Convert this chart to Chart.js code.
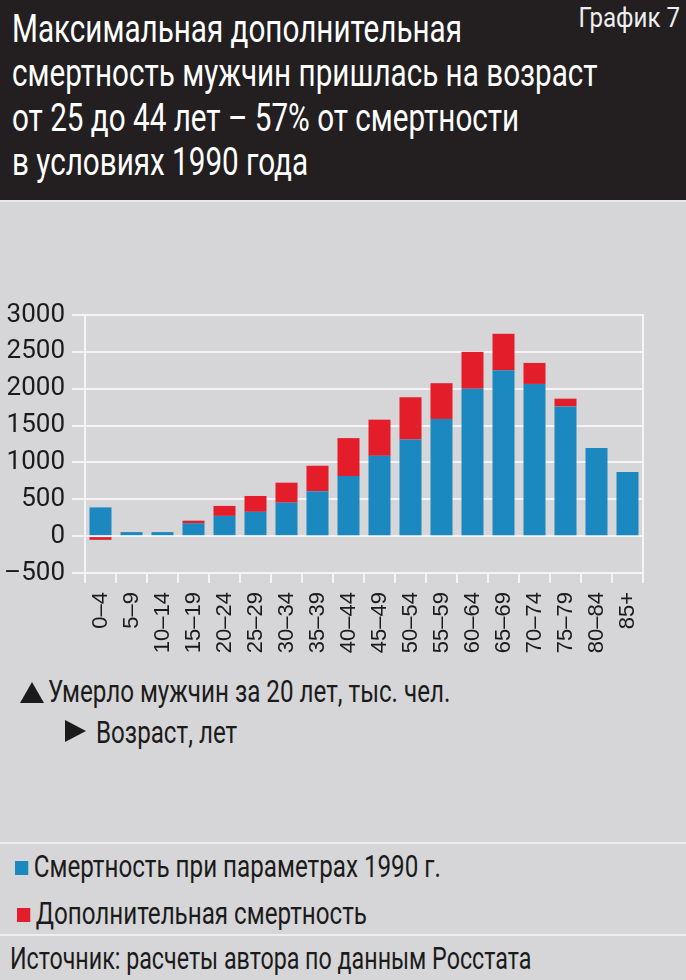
<!DOCTYPE html>
<html lang="ru">
<head>
<meta charset="utf-8">
<title>График 7</title>
<script src="https://cdn.jsdelivr.net/npm/chart.js@4.4.1/dist/chart.umd.min.js"></script>
<style>
    html, body {
        margin: 0;
        padding: 0;
    }
    body {
        width: 686px;
        height: 980px;
        overflow: hidden;
        position: relative;
        background: #d6d5d7;
        font-family: Roboto, "Liberation Sans", sans-serif;
        color: #1b1b1b;
    }
    /* узкий шрифт имитируем сжатием по горизонтали */
    .cond {
        position: absolute;
        white-space: nowrap;
        transform: scaleX(0.78);
        transform-origin: 0 0;
    }
    .header {
        position: absolute;
        left: 0;
        top: 0;
        width: 686px;
        height: 200px;
        background: #231f20;
        border-bottom: 2px solid #e9e8ea;
    }
    .title-line {
        left: 12px;
        font-size: 38px;
        line-height: 44px;
        color: #ffffff;
    }
    .num {
        right: 6px;
        top: 2px;
        font-size: 28px;
        line-height: 32px;
        color: #eeeeee;
        transform: scaleX(0.86);
        transform-origin: 100% 0;
    }
    .chart-box {
        position: absolute;
        left: 0;
        top: 290px;
        width: 686px;
        height: 380px;
    }
    .note {
        font-size: 31px;
        line-height: 34px;
    }
    .tri-up {
        position: absolute;
        width: 0;
        height: 0;
        border-left: 12px solid transparent;
        border-right: 12px solid transparent;
        border-bottom: 21px solid #1b1b1b;
    }
    .tri-right {
        position: absolute;
        width: 0;
        height: 0;
        border-top: 11px solid transparent;
        border-bottom: 11px solid transparent;
        border-left: 21px solid #1b1b1b;
    }
    .sep {
        position: absolute;
        left: 0;
        width: 686px;
        height: 2px;
        background: #eeedef;
    }
    .legend-item i {
        display: inline-block;
        width: 17px;
        height: 14px;
        margin-right: 7px;
        vertical-align: 2px;
    }
</style>
</head>
<body>
    <div class="header" id="header">
        <div class="cond num">График 7</div>
    </div>

    <div class="chart-box">
        <canvas id="deathChart" width="686" height="380"></canvas>
    </div>

    <div class="tri-up" style="left:20px; top:682px;"></div>
    <div class="cond note" style="left:48px; top:675px;">Умерло мужчин за 20 лет, тыс. чел.</div>
    <div class="tri-right" style="left:65px; top:720px;"></div>
    <div class="cond note" style="left:96px; top:716px;">Возраст, лет</div>

    <div class="sep" style="top:842px;"></div>
    <div id="legend"></div>
    <div class="sep" style="top:934px;"></div>

    <div class="cond note" style="left:10px; top:942px; transform: scaleX(0.75);">Источник: расчеты автора по данным Росстата</div>

<script>
// Данные графика
const titleLines = [
    'Максимальная дополнительная',
    'смертность мужчин пришлась на возраст',
    'от 25 до 44 лет – 57% от смертности',
    'в условиях 1990 года'
];

const ageGroups = ['0–4', '5–9', '10–14', '15–19', '20–24', '25–29', '30–34', '35–39', '40–44',
    '45–49', '50–54', '55–59', '60–64', '65–69', '70–74', '75–79', '80–84', '85+'];

// Умерло мужчин за 20 лет, тыс. чел.
const baseDeaths = [390, 55, 55, 175, 275, 330, 455, 610, 815, 1090, 1310, 1590, 2000, 2250, 2065, 1760, 1195, 870];
const extraDeaths = [-50, 0, 0, 35, 135, 215, 270, 345, 515, 490, 575, 485, 500, 495, 285, 105, 0, 0];

const seriesNames = ['Смертность при параметрах 1990 г.', 'Дополнительная смертность'];
const seriesColors = ['#1b89bf', '#e31d2a'];

const yMin = -500;
const yMax = 3000;
const yStep = 500;

// Заголовок
function renderTitle() {
    const header = document.getElementById('header');
    titleLines.forEach((line, i) => {
        const div = document.createElement('div');
        div.className = 'cond title-line';
        div.style.top = (7 + i * 44.3) + 'px';
        div.textContent = line;
        header.appendChild(div);
    });
}

// Легенда (под графиком, как в оригинале)
function renderLegend() {
    const legend = document.getElementById('legend');
    const tops = [850, 897];
    const lefts = [15, 17];
    seriesNames.forEach((name, i) => {
        const item = document.createElement('div');
        item.className = 'cond note legend-item';
        item.style.left = lefts[i] + 'px';
        item.style.top = tops[i] + 'px';
        item.innerHTML = `<i style="background:${seriesColors[i]}"></i>${name}`;
        legend.appendChild(item);
    });
}

// Столбчатая диаграмма
function renderChart() {
    const ctx = document.getElementById('deathChart');

    new Chart(ctx, {
        type: 'bar',
        data: {
            labels: ageGroups,
            datasets: [
                {
                    label: seriesNames[0],
                    data: baseDeaths,
                    backgroundColor: seriesColors[0],
                    borderWidth: 0
                },
                {
                    label: seriesNames[1],
                    data: extraDeaths,
                    backgroundColor: seriesColors[1],
                    borderWidth: 0
                }
            ]
        },
        options: {
            responsive: false,
            animation: false,
            devicePixelRatio: 1,
            categoryPercentage: 1,
            barPercentage: 0.71,
            layout: {
                padding: { top: 25, left: 0, right: 0, bottom: 0 }
            },
            plugins: {
                legend: { display: false },
                tooltip: { enabled: false }
            },
            scales: {
                x: {
                    stacked: true,
                    afterFit: (scale) => { scale.height = 97; },
                    grid: {
                        offset: true,
                        drawOnChartArea: false,
                        drawTicks: true,
                        tickLength: 10,
                        color: '#f4f4f6',
                        lineWidth: 2
                    },
                    border: { display: false },
                    ticks: {
                        minRotation: 90,
                        maxRotation: 90,
                        autoSkip: false,
                        padding: 9,
                        color: '#1b1b1b',
                        font: { family: '"Liberation Sans", Arial, sans-serif', size: 22 }
                    }
                },
                y: {
                    stacked: true,
                    min: yMin,
                    max: yMax,
                    afterFit: (scale) => { scale.width = 85; },
                    grid: {
                        color: '#f4f4f6',
                        lineWidth: 2,
                        tickLength: 13
                    },
                    border: { display: true, color: '#f4f4f6', width: 2 },
                    ticks: {
                        stepSize: yStep,
                        autoSkip: false,
                        padding: 7,
                        color: '#1b1b1b',
                        font: { family: 'Roboto, sans-serif', size: 26 },
                        callback: (val) => val < 0 ? '–' + Math.abs(val) : String(val)
                    }
                },
                y2: {
                    position: 'right',
                    afterFit: (scale) => { scale.width = 43; },
                    grid: { display: false },
                    border: { display: true, color: '#f4f4f6', width: 2 },
                    ticks: { display: false }
                }
            }
        }
    });
}

document.addEventListener('DOMContentLoaded', () => {
    renderTitle();
    renderLegend();
    renderChart();
});
</script>
</body>
</html>
